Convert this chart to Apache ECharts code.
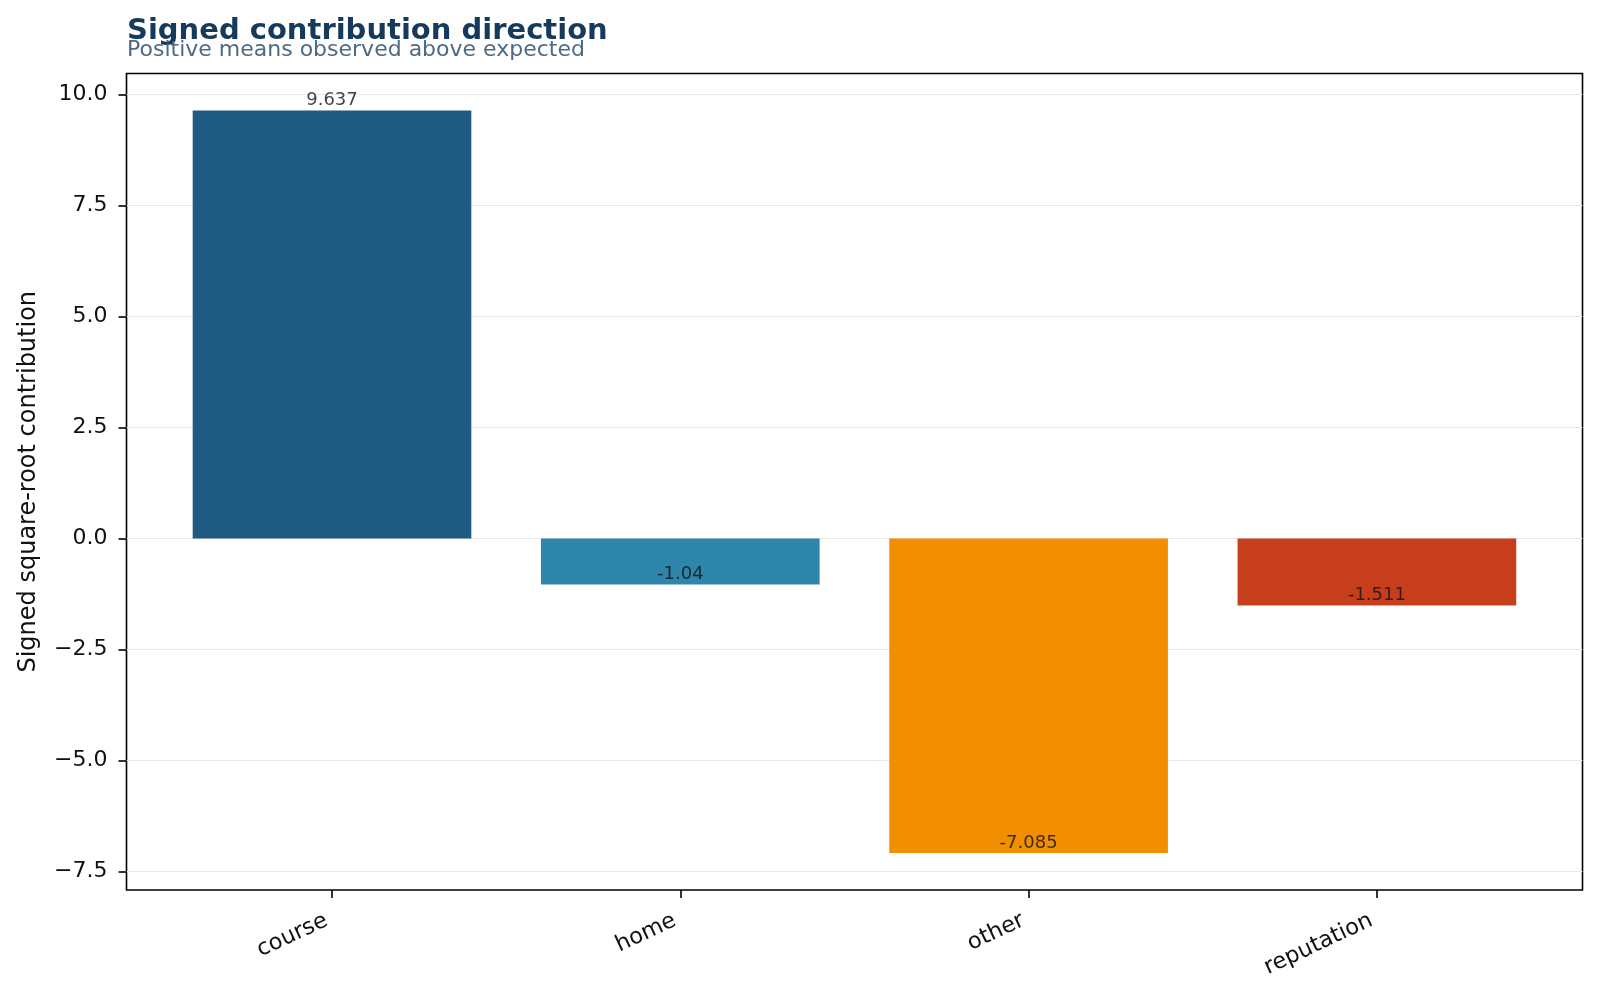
<!DOCTYPE html>
<html>
<head>
<meta charset="utf-8">
<script src="https://cdn.jsdelivr.net/npm/echarts@6/dist/echarts.min.js"></script>
<style>html,body{margin:0;padding:0;background:#fff;}#c{width:1600px;height:1000px;}</style>
</head>
<body>
<div id="c"></div>
<script>
const categories = ['course', 'home', 'other', 'reputation'];
const values = [9.637, -1.04, -7.085, -1.511];
const barColors = ['#1f5a82', '#2e86ab', '#f18f01', '#c73e1d'];
const yTicks = [-7.5, -5.0, -2.5, 0.0, 2.5, 5.0, 7.5, 10.0];
const yMin = -7.921, yMax = 10.473;
const titleText = 'Signed contribution direction';
const subtitleText = 'Positive means observed above expected';
const yName = 'Signed square-root contribution';

const FONT = 'DejaVu Sans';
const chart = echarts.init(document.getElementById('c'), null, {renderer: 'canvas'});

const fmt = v => (v < 0 ? '\u2212' : '') + Math.abs(v).toFixed(1);

chart.setOption({
  animation: false,
  backgroundColor: '#ffffff',
  textStyle: {fontFamily: FONT},
  title: [
    {text: titleText, left: 127, top: 17, padding: 0,
     textStyle: {fontFamily: FONT, fontSize: 29, fontWeight: 'bold', color: '#163a5b'}},
    {text: subtitleText, left: 127, top: 39, padding: 0,
     textStyle: {fontFamily: FONT, fontSize: 22, fontWeight: 'normal', color: '#4e6a84'}}
  ],
  grid: [
    {left: 126.5, top: 73.5, width: 1456, height: 816.5, show: true,
     borderColor: '#000', borderWidth: 1.6, backgroundColor: 'transparent', containLabel: false},
    {left: 157.85, top: 73.5, width: 1393.2, height: 816.5, containLabel: false}
  ],
  xAxis: [
    {gridIndex: 0, type: 'value', min: 0, max: 1, show: false},
    {gridIndex: 1, type: 'category', data: categories, position: 'bottom',
     axisLine: {show: false, onZero: false},
     axisTick: {show: true, alignWithLabel: true, length: 8, lineStyle: {color: '#000', width: 1.6}},
     axisLabel: {fontFamily: FONT, fontSize: 22.5, color: '#111', rotate: 25, margin: 27,
                 padding: [0, 6, 0, 0]},
     splitLine: {show: false}}
  ],
  yAxis: [
    {gridIndex: 0, type: 'value', min: yMin, max: yMax,
     axisLine: {show: false},
     axisTick: {show: true, length: 8, customValues: yTicks, lineStyle: {color: '#000', width: 1.6}},
     axisLabel: {fontFamily: FONT, fontSize: 22, color: '#111', margin: 19, customValues: yTicks,
                 formatter: fmt},
     splitLine: {show: true, lineStyle: {color: '#e8e8e8', width: 1.2}},
     name: yName, nameLocation: 'middle', nameGap: 86, nameRotate: 90,
     nameTextStyle: {fontFamily: FONT, fontSize: 24, color: '#111'}},
    {gridIndex: 1, type: 'value', min: yMin, max: yMax, show: false,
     splitLine: {show: false}}
  ],
  series: [
    {type: 'bar', xAxisIndex: 1, yAxisIndex: 1, barWidth: '80%',
     data: values.map((v, i) => ({value: v, itemStyle: {color: barColors[i]}})),
     label: {show: false}},
    {type: 'scatter', xAxisIndex: 1, yAxisIndex: 1, symbolSize: 0, silent: true,
     data: values,
     label: {show: true, position: 'top', distance: 1, fontFamily: FONT, fontSize: 18, color: '#111',
             formatter: p => String(p.value)}}
  ]
});
</script>
</body>
</html>
